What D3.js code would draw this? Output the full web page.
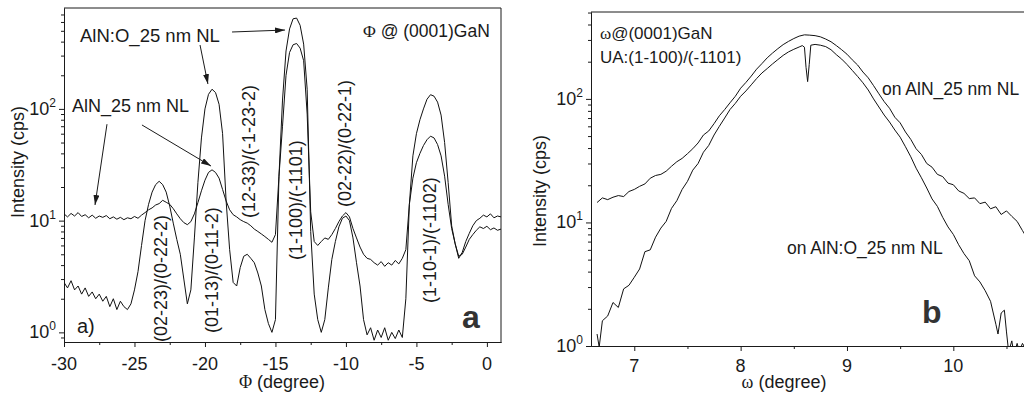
<!DOCTYPE html>
<html>
<head>
<meta charset="utf-8">
<script src="https://cdn.jsdelivr.net/npm/d3@7"></script>
<style>
  body { margin: 0; background: #fff; }
  svg { display: block; }
  text { font-family: "Liberation Sans", Arial, Helvetica, sans-serif; fill: #1a1a1a; }
  .axis path, .axis line { stroke: #1a1a1a; }
  .serif { font-family: "Liberation Serif", "Times New Roman", serif; }
</style>
</head>
<body>
<div id="chart"></div>
<script>
// ---- panel a : phi scan ----
var phiDeg = [
  -30, -29.75, -29.5, -29.25, -29, -28.75, -28.5, -28.25,
  -28, -27.75, -27.5, -27.25, -27, -26.75, -26.5, -26.25,
  -26, -25.75, -25.5, -25.25, -25, -24.75, -24.5, -24.25,
  -24, -23.75, -23.5, -23.25, -23, -22.75, -22.5, -22.25,
  -22, -21.75, -21.5, -21.25, -21, -20.75, -20.5, -20.25,
  -20, -19.75, -19.5, -19.25, -19, -18.75, -18.5, -18.25,
  -18, -17.75, -17.5, -17.25, -17, -16.75, -16.5, -16.25,
  -16, -15.75, -15.5, -15.25, -15, -14.75, -14.5, -14.25,
  -14, -13.75, -13.5, -13.25, -13, -12.75, -12.5, -12.25,
  -12, -11.75, -11.5, -11.25, -11, -10.75, -10.5, -10.25,
  -10, -9.75, -9.5, -9.25, -9, -8.75, -8.5, -8.25,
  -8, -7.75, -7.5, -7.25, -7, -6.75, -6.5, -6.25,
  -6, -5.75, -5.5, -5.25, -5, -4.75, -4.5, -4.25,
  -4, -3.75, -3.5, -3.25, -3, -2.75, -2.5, -2.25,
  -2, -1.75, -1.5, -1.25, -1, -0.75, -0.5, -0.25,
  0, 0.25, 0.5, 0.75, 1
];
// AlN_25 nm NL
var phiAlN = [
  11.5, 10.8, 11.6, 11.0, 11.8, 10.9, 11.3, 10.6,
  11.2, 10.5, 11.0, 10.7, 11.1, 10.4, 10.8, 10.3,
  10.7, 10.2, 10.6, 10.4, 10.9, 10.5, 11.2, 11.8,
  12.5, 13.0, 13.8, 14.2, 15.2, 14.6, 14.0, 12.8,
  11.5, 10.4, 9.6, 9.2, 9.8, 11.5, 14.5, 18.5,
  23, 27, 28.5, 27, 24, 19, 15, 12.5,
  11.3, 10.8, 10.2, 9.8, 9.5, 9.0, 8.4, 8.0,
  7.6, 7.2, 6.8, 6.4, 7.5, 25, 70, 200,
  320, 375, 385, 350, 270, 90, 12, 6.5,
  6.0, 6.5, 7.0, 6.8, 7.5, 8.5, 9.8, 11.0,
  11.8, 10.8, 8.5, 7.0, 5.8, 5.0, 4.6, 4.5,
  4.2, 4.0, 4.3, 3.9, 4.2, 4.0, 4.4, 4.1,
  4.6, 5.5, 14, 24, 33, 40, 47, 53,
  57, 55, 48, 38, 25, 14, 8.5, 6.2,
  4.8, 5.0, 5.8, 6.8, 7.5, 8.2, 8.8, 8.5,
  8.9, 8.3, 8.6, 8.2, 8.4
];
// AlN:O_25 nm NL
var phiAlNO = [
  2.8, 2.5, 2.9, 2.4, 2.6, 2.2, 2.5, 2.1,
  2.3, 2.0, 2.2, 1.9, 2.1, 1.7, 2.0, 1.6,
  1.9, 1.7, 1.6, 1.8, 2.4, 3.5, 6.0, 10,
  14, 18, 21, 22.5, 21, 18, 13.5, 9.5,
  6.8, 5.0, 3.0, 1.8, 2.4, 7, 22, 55,
  100, 135, 150, 140, 110, 60, 15, 5.5,
  2.8, 2.6, 3.8, 4.8, 5.0, 4.6, 4.2, 3.4,
  2.6, 1.6, 1.2, 1.0, 1.3, 25, 120, 330,
  520, 640, 650, 560, 380, 150, 8, 2.2,
  1.3, 1.0, 1.3, 2.5, 4.5, 6.5, 8.8, 10.5,
  11, 10, 7, 4.2, 2.6, 1.3, 0.95, 1.1,
  0.85, 1.05, 0.9, 1.1, 0.85, 1.0, 0.88, 1.05,
  0.9, 2.0, 14, 38, 60, 80, 100, 122,
  134, 130, 115, 88, 50, 22, 9, 6.2,
  4.6, 5.2, 6.5, 7.7, 9, 10, 10.5, 11.2,
  10.8, 11.5, 10.6, 11.0, 10.8
];
var phiTicks = [-30, -25, -20, -15, -10, -5, 0];
var phiMinorTicks = [-27.5, -22.5, -17.5, -12.5, -7.5, -2.5];
var phiDecades = [0, 1, 2];
var peakLabels = ["(02-23)/(0-22-2)", "(01-13)/(0-11-2)", "(12-33)/(-1-23-2)",
                  "(1-100)/(-1101)", "(02-22)/(0-22-1)", "(1-10-1)/(-1102)"];
var peakPhi = [-23.1, -19.5, -16.9, -13.55, -10.1, -4.05];

// ---- panel b : omega scan ----
var omegaAlN = [
  6.65, 6.70, 6.75, 6.80, 6.85, 6.90, 6.95, 7.00, 7.05, 7.10,
  7.15, 7.20, 7.25, 7.30, 7.35, 7.40, 7.45, 7.50, 7.55, 7.60,
  7.65, 7.70, 7.75, 7.80, 7.85, 7.90, 7.95, 8.00, 8.05, 8.10,
  8.15, 8.20, 8.25, 8.30, 8.35, 8.40, 8.45, 8.50, 8.55, 8.60,
  8.65, 8.70, 8.75, 8.80, 8.85, 8.90, 8.95, 9.00, 9.05, 9.10,
  9.15, 9.20, 9.25, 9.30, 9.35, 9.40, 9.45, 9.50, 9.55, 9.60,
  9.65, 9.70, 9.75, 9.80, 9.85, 9.90, 9.95, 10.00, 10.05, 10.10,
  10.15, 10.20, 10.25, 10.30, 10.35, 10.40, 10.45, 10.50, 10.55, 10.60,
  10.65, 10.70
];
var omegaAlNInt = [
  14.5, 15.8, 15.3, 16.0, 16.5, 16.2, 17.8, 18.5, 19.6, 20.5,
  22.8, 24.0, 24.5, 26.0, 28.5, 31.0, 33.0, 36.0, 39.5, 44.0,
  51.0, 55.0, 63.0, 73.0, 82.0, 93.0, 105, 122, 136, 153,
  174, 193, 215, 235, 255, 275, 292, 308, 322, 330,
  328, 325, 318, 305, 290, 270, 250, 230, 207, 188,
  165, 148, 128, 110, 95, 84, 71, 64, 54, 47,
  39.5, 35.5, 30, 28, 24.5, 23.5, 20.8, 20.2, 18.0, 17.2,
  15.6, 15.8, 14.2, 14.6, 12.9, 13.4, 11.6, 12.4, 11.2, 10.2,
  8.6, 7.3
];
var omegaAlNO = [
  6.65, 6.67, 6.70, 6.75, 6.80, 6.85, 6.90, 6.95, 7.00, 7.05,
  7.10, 7.15, 7.20, 7.25, 7.30, 7.35, 7.40, 7.45, 7.50, 7.55,
  7.60, 7.65, 7.70, 7.75, 7.80, 7.85, 7.90, 7.95, 8.00, 8.05,
  8.10, 8.15, 8.20, 8.25, 8.30, 8.35, 8.40, 8.45, 8.50, 8.55,
  8.58, 8.60, 8.615, 8.63, 8.645, 8.66, 8.70, 8.75, 8.80, 8.85,
  8.90, 8.95, 9.00, 9.05, 9.10, 9.15, 9.20, 9.25, 9.30, 9.35,
  9.40, 9.45, 9.50, 9.55, 9.60, 9.65, 9.70, 9.75, 9.80, 9.85,
  9.90, 9.95, 10.00, 10.05, 10.10, 10.15, 10.20, 10.25, 10.30, 10.35,
  10.40, 10.42, 10.45, 10.48, 10.50, 10.52, 10.55, 10.57, 10.60, 10.62,
  10.65, 10.68, 10.70
];
var omegaAlNOInt = [
  1.25, 0.98, 1.6, 1.75, 2.25, 2.05, 2.9, 3.1, 3.6, 4.2,
  5.8, 6.0, 7.6, 9.0, 10.2, 13.0, 15.0, 18.5, 21.5, 26.5,
  30.0, 37.0, 42.0, 51.0, 60.0, 70.0, 82.0, 92.0, 105, 116,
  130, 146, 162, 176, 192, 208, 225, 240, 252, 263,
  270, 262, 180, 138, 190, 272, 276, 272, 265, 250,
  228, 210, 190, 170, 152, 135, 118, 100, 86, 74,
  65, 56, 49, 41, 34, 27.5, 23, 19, 15.5, 13.5,
  11.0, 9.2, 8.0, 6.6, 5.6, 4.9, 3.7, 3.3, 2.8, 2.3,
  1.5, 1.25, 1.85, 1.95, 1.3, 0.9, 1.1, 0.85, 1.05, 0.9,
  1.05, 0.95, 1.0
];
var omegaTicks = [7, 8, 9, 10];
var omegaMinorTicks = [7.5, 8.5, 9.5, 10.5];
var omegaDecades = [0, 1, 2];

var width = 1024, height = 397;
var svg = d3.select("#chart").append("svg")
    .attr("width", width)
    .attr("height", height);

var defs = svg.append("defs");
defs.append("marker")
    .attr("id", "arrow")
    .attr("markerUnits", "userSpaceOnUse")
    .attr("markerWidth", 10).attr("markerHeight", 6)
    .attr("refX", 10).attr("refY", 3)
    .attr("orient", "auto")
    .append("path").attr("d", "M0,0L10,3L0,6Z").attr("fill", "#1a1a1a");

var mult = [2, 3, 4, 5, 6, 7, 8, 9];
function minorLog(scale) {
    var d = scale.domain(), out = [];
    [-1, 0, 1, 2].forEach(function (e) {
        mult.forEach(function (m) {
            var v = m * Math.pow(10, e);
            if (v > d[0] && v < d[1]) out.push(v);
        });
    });
    return out;
}

function drawPanel(o) {
    var x = o.x, y = o.y;
    var r = x.range(), b = y.range();
    var g = svg.append("g");

    defs.append("clipPath").attr("id", o.id)
        .append("rect").attr("x", r[0]).attr("y", b[1])
        .attr("width", r[1] - r[0]).attr("height", b[0] - b[1]);

    // x axis
    g.append("g").attr("class", "axis")
        .attr("transform", "translate(0," + b[0] + ")")
        .call(d3.axisBottom(x).tickValues(o.xMinor).tickSize(3).tickSizeOuter(0).tickFormat(""));
    g.append("g").attr("class", "axis")
        .attr("transform", "translate(0," + b[0] + ")")
        .call(d3.axisBottom(x).tickValues(o.xTicks).tickSize(5).tickSizeOuter(0).tickFormat(""));
    g.selectAll(".xlab").data(o.xTicks).enter().append("text")
        .attr("x", function (d) { return x(d); })
        .attr("y", b[0] + o.xLabDy)
        .attr("text-anchor", "middle")
        .attr("font-size", "18px")
        .text(function (d) { return String(d); });

    // y axis
    g.append("g").attr("class", "axis")
        .attr("transform", "translate(" + r[0] + ",0)")
        .call(d3.axisLeft(y).tickValues(minorLog(y)).tickSize(3).tickSizeOuter(0).tickFormat(""));
    g.append("g").attr("class", "axis")
        .attr("transform", "translate(" + r[0] + ",0)")
        .call(d3.axisLeft(y).tickValues(o.decades.map(function (e) { return Math.pow(10, e); }))
            .tickSize(5).tickSizeOuter(0).tickFormat(""));
    var yl = g.selectAll(".ylab").data(o.decades).enter().append("text")
        .attr("x", r[0] - 8)
        .attr("y", function (e) { return y(Math.pow(10, e)) + 6; })
        .attr("text-anchor", "end")
        .attr("font-size", "18px");
    yl.append("tspan").text("10");
    yl.append("tspan").attr("dy", -8).attr("font-size", "12px").text(function (e) { return e; });

    // frame
    g.append("line").attr("x1", r[0]).attr("x2", r[1]).attr("y1", b[1]).attr("y2", b[1])
        .attr("stroke", "#1a1a1a");
    if (o.rightFrame) {
        g.append("line").attr("x1", r[1]).attr("x2", r[1]).attr("y1", b[1]).attr("y2", b[0])
            .attr("stroke", "#1a1a1a");
    }

    // curves
    var line = d3.line()
        .x(function (d) { return x(d[0]); })
        .y(function (d) { return y(d[1]); });
    var cg = g.append("g").attr("clip-path", "url(#" + o.id + ")");
    o.series.forEach(function (s) {
        cg.append("path")
            .datum(d3.zip(s[0], s[1]))
            .attr("d", line)
            .attr("fill", "none")
            .attr("stroke", "#111")
            .attr("stroke-width", 1)
            .attr("stroke-linejoin", "round");
    });

    // axis titles
    g.append("text")
        .attr("transform", "translate(" + o.yTitleX + "," + o.yTitleY + ") rotate(-90)")
        .attr("text-anchor", "middle")
        .attr("font-size", "18px")
        .text("Intensity (cps)");
    var xt = g.append("text")
        .attr("x", o.xTitleX).attr("y", 388)
        .attr("text-anchor", "middle")
        .attr("font-size", "18px");
    xt.append("tspan").attr("class", "serif").text(o.xSymbol);
    xt.append("tspan").text(" (degree)");
    return g;
}

// panel a
var xL = d3.scaleLinear().domain([-30, 1]).range([64, 501]);
var yL = d3.scaleLog().domain([0.82, 800]).range([342, 8]);
var gA = drawPanel({
    id: "clipA", x: xL, y: yL,
    xTicks: phiTicks, xMinor: phiMinorTicks, decades: phiDecades,
    xLabDy: 28, rightFrame: true,
    series: [[phiDeg, phiAlN], [phiDeg, phiAlNO]],
    yTitleX: 24, yTitleY: 162, xTitleX: 282, xSymbol: "\u03A6"
});

// panel b
var xR = d3.scaleLinear().domain([6.593, 10.721]).range([591, 1030]);
var yR = d3.scaleLog().domain([1, 505]).range([346, 12]);
var gB = drawPanel({
    id: "clipB", x: xR, y: yR,
    xTicks: omegaTicks, xMinor: omegaMinorTicks, decades: omegaDecades,
    xLabDy: 26, rightFrame: false,
    series: [[omegaAlN, omegaAlNInt], [omegaAlNO, omegaAlNOInt]],
    yTitleX: 546, yTitleY: 191, xTitleX: 784, xSymbol: "\u03C9"
});

// panel a annotations
var arrowsA = [
    [[-18.08, 488], [-14.32, 508]],
    [[-20.35, 373], [-19.79, 167]],
    [[-26.95, 73], [-27.8, 13.8]],
    [[-24.47, 71.8], [-19.57, 30.8]]
];
gA.selectAll(".arrow").data(arrowsA).enter().append("line")
    .attr("x1", function (d) { return xL(d[0][0]); })
    .attr("y1", function (d) { return yL(d[0][1]); })
    .attr("x2", function (d) { return xL(d[1][0]); })
    .attr("y2", function (d) { return yL(d[1][1]); })
    .attr("stroke", "#1a1a1a")
    .attr("stroke-width", 1)
    .attr("marker-end", "url(#arrow)");

gA.append("text").attr("x", 80).attr("y", 42).attr("font-size", "18.5px").text("AlN:O_25 nm NL");
gA.append("text").attr("x", 72).attr("y", 112).attr("font-size", "18px").text("AlN_25 nm NL");
var phiNote = gA.append("text").attr("x", 363).attr("y", 37).attr("font-size", "17.5px");
phiNote.append("tspan").attr("class", "serif").text("\u03A6");
phiNote.append("tspan").text(" @ (0001)GaN");
gA.append("text").attr("x", 77).attr("y", 333).attr("font-size", "20px").text("a)");
gA.append("text").attr("x", 462).attr("y", 328).attr("font-size", "32px")
    .attr("font-weight", "bold").style("fill", "#333").text("a");

var peakBottoms = [342, 333, 218, 260, 207, 303];
gA.selectAll(".peak").data(peakLabels).enter().append("text")
    .attr("transform", function (d, i) {
        return "translate(" + (xL(peakPhi[i]) + 6) + "," + peakBottoms[i] + ") rotate(-90)";
    })
    .attr("font-size", "18px")
    .text(function (d) { return d; });

// panel b annotations
var omNote = gB.append("text").attr("x", 600).attr("y", 39).attr("font-size", "17px");
omNote.append("tspan").attr("class", "serif").text("\u03C9");
omNote.append("tspan").text("@(0001)GaN");
gB.append("text").attr("x", 600).attr("y", 63).attr("font-size", "17px").text("UA:(1-100)/(-1101)");
gB.append("text").attr("x", 882).attr("y", 95).attr("font-size", "17.5px").text("on AlN_25 nm NL");
gB.append("text").attr("x", 787).attr("y", 254).attr("font-size", "17.5px").text("on AlN:O_25 nm NL");
gB.append("text").attr("x", 922).attr("y", 323).attr("font-size", "32px")
    .attr("font-weight", "bold").style("fill", "#333").text("b");
</script>
</body>
</html>
